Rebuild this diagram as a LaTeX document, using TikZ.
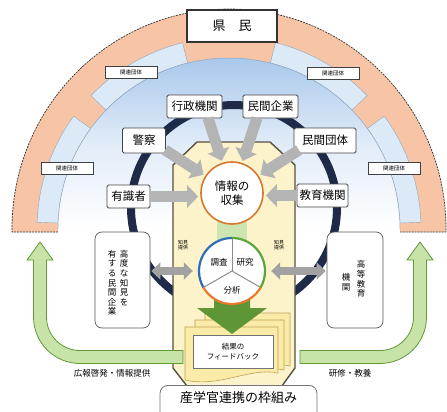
\documentclass[tikz,border=0pt]{standalone}
\usepackage{fontspec}
\setmainfont{Noto Sans CJK JP}
\usetikzlibrary{arrows.meta}
\definecolor{orangeband}{HTML}{F7C5A5}
\definecolor{domeblue}{HTML}{A9C8EB}
\definecolor{tabblue}{HTML}{DCE9F7}
\definecolor{tabedge}{HTML}{8FA5BE}
\definecolor{ringcol}{HTML}{1E2A47}
\definecolor{colyellow}{HTML}{FDF3CA}
\definecolor{coledge}{HTML}{55503F}
\definecolor{bandgreen}{HTML}{CDE5B0}
\definecolor{arrowgreen}{HTML}{5E9636}
\definecolor{greenfill}{HTML}{C7E3A7}
\definecolor{greenedge}{HTML}{5E9A38}
\definecolor{arrowgray}{HTML}{B4B4B4}
\definecolor{paperfill}{HTML}{FBEBA8}
\definecolor{paperedge}{HTML}{B9A358}
\definecolor{infoorange}{HTML}{D8782F}
\definecolor{anablue}{HTML}{2F6DB8}
\definecolor{anagreen}{HTML}{5BA63C}
\definecolor{anaorange}{HTML}{E8792C}
\definecolor{boxedge}{HTML}{444444}
\tikzset{
  relbox/.style={draw=black!75, fill=white, line width=0.5pt, minimum width=52pt, minimum height=12pt, inner sep=0pt, font=\fontsize{5.5}{6}\selectfont},
  mbox/.style={draw=boxedge, line width=0.8pt, fill=white, rounded corners=1.5pt, minimum height=23pt, inner sep=1.5pt, font=\fontsize{11.5}{12}\selectfont},
  vbox/.style={draw=black!65, line width=0.7pt, fill=white, rounded corners=7pt, minimum width=55pt, minimum height=96pt},
  vtext/.style={align=center, inner sep=0pt, font=\fontsize{8.5}{9.6}\selectfont},
  garrow/.style={line width=11pt, draw=arrowgray, -{Triangle[width=22pt,length=11pt]}, shorten >=2pt},
  darrow/.style={line width=8pt, draw=arrowgray!90!black, {Triangle[width=17pt,length=9pt]}-{Triangle[width=17pt,length=9pt]}},
  paper/.style={fill=paperfill, draw=paperedge, line width=0.6pt},
  small/.style={align=center, inner sep=0pt, font=\fontsize{5}{5.8}\selectfont},
  caption/.style={inner sep=0pt, font=\fontsize{8.5}{9}\selectfont}
}
\begin{document}
\begin{tikzpicture}[x=1pt,y=-1pt]
\useasboundingbox (0,0) rectangle (447,412);
\clip (0,0) rectangle (447,412);
\fill[white] (0,0) rectangle (447,412);

% orange outer band
\fill[orangeband] (12,232) -- (12,229) arc[start angle=180,end angle=360,x radius=217,y radius=220] -- (446,232) -- (400,232) -- (400,229) arc[start angle=360,end angle=180,radius=171] -- (58,232) -- cycle;
\draw[black!80, line width=0.7pt, dash pattern=on 2pt off 1pt] (58,232) -- (12,232) -- (12,229) arc[start angle=180,end angle=360,x radius=217,y radius=220] -- (446,232) -- (400,232);

% tabs
\foreach \a/\b in {182/216, 224/256, 284/316, 324/358}{
  \filldraw[fill=tabblue, draw=tabedge, line width=0.4pt]
    ([shift={(229,229)}]\a:192) arc[start angle=\a, end angle=\b, radius=192]
    -- ([shift={(229,229)}]\b:171) arc[start angle=\b, end angle=\a, radius=171] -- cycle;
}
% dome
\shade[top color=domeblue, bottom color=white, middle color=domeblue!35] (58,229) arc[start angle=180,end angle=360,radius=171] -- cycle;
\draw[tabedge, line width=0.5pt] (58,229) arc[start angle=180,end angle=360,radius=171];

% labels on tabs
\node[relbox] (rel1) at (131,72) {関連団体};
\node[relbox] (rel2) at (333,73) {関連団体};
\node[relbox] (rel3) at (67,168) {関連団体};
\node[relbox] (rel4) at (394,168) {関連団体};

% kenmin
\node[draw=black!80, line width=1.6pt, fill=white, minimum width=90pt, minimum height=32pt, font=\fontsize{13}{14}\selectfont] (kenmin) at (232,26) {県　民};

% ring
\draw[ringcol, line width=8pt] (234,208) circle[radius=103];

% column
\filldraw[fill=colyellow, draw=coledge, line width=1.4pt] (173,165) -- (197,142) -- (270,142) -- (295,165) -- (295,368) -- (279,390) -- (190,390) -- (173,368) -- cycle;

% green curved arrows
\filldraw[fill=greenfill, draw=greenedge, line width=0.8pt] (183,350.5) -- (80,350.5) arc[start angle=90, end angle=180, radius=33.5] -- (46.5,260) -- (53,260) -- (40,242) -- (27,260) -- (33.5,260) -- (33.5,317) arc[start angle=180, end angle=90, radius=46.5] -- (183,363.5) -- cycle;
\filldraw[fill=greenfill, draw=greenedge, line width=0.8pt] (300,350.5) -- (380,350.5) arc[start angle=90, end angle=0, radius=33.5] -- (413.5,260) -- (407,260) -- (420,242) -- (433,260) -- (426.5,260) -- (426.5,317) arc[start angle=0, end angle=90, radius=46.5] -- (300,363.5) -- cycle;

% green band
\fill[bandgreen] (217,222) rectangle (247,275);

% info circle
\node[circle, draw=infoorange, line width=1.6pt, fill=white, minimum size=62pt, inner sep=0pt, align=center, font=\fontsize{11.5}{13.5}\selectfont] (info) at (232,193) {情報の\\収集};

% boxes
\node[mbox, minimum width=55pt] (kousei) at (194.5,106.5) {行政機関};
\node[mbox, minimum width=55pt] (minkan) at (270.5,106.5) {民間企業};
\node[mbox, minimum width=43pt, minimum height=25pt] (keisatsu) at (144,140.5) {警察};
\node[mbox, minimum width=62pt, minimum height=25pt] (mdantai) at (325,140.5) {民間団体};
\node[mbox, minimum width=43pt] (yuushiki) at (128.5,196.5) {有識者};
\node[mbox, minimum width=51pt] (kyouiku) at (322.5,195.5) {教育機関};

% gray arrows
\draw[garrow] (208,118) -- (info);
\draw[garrow] (257,118) -- (info);
\draw[garrow] (165,150) -- (info);
\draw[garrow] (299,150) -- (info);
\draw[garrow] (yuushiki.east) -- (yuushiki.east -| info.west);
\draw[garrow] (kyouiku.west) -- (kyouiku.west -| info.east);

% papers
\filldraw[paper] (205,313) -- (290,313) -- (290,366) .. controls (265,360) and (240,376) .. (205,370) -- cycle;
\filldraw[paper] (195,320) -- (284,320) -- (284,370) .. controls (258,364) and (230,384) .. (195,376) -- cycle;
\filldraw[paper] (185,327) -- (278,327) -- (278,373) .. controls (250,367) and (220,388) .. (185,380) -- cycle;

% big green arrow
\fill[arrowgreen] (214,288) -- (250,288) -- (250,308) -- (267,308) -- (232,334) -- (197,308) -- (214,308) -- cycle;

% analysis circle
\node[circle, fill=white, minimum size=66pt, inner sep=0pt] (ana) at (232,271) {};
\draw[black!45, line width=1pt] (ana.center) -- ([shift={(270:33)}]ana.center);
\draw[black!45, line width=1pt] (ana.center) -- ([shift={(150:33)}]ana.center);
\draw[black!45, line width=1pt] (ana.center) -- ([shift={(30:33)}]ana.center);
\draw[anablue, line width=2.2pt] ([shift={(270:33)}]ana.center) arc[start angle=270, end angle=150, radius=33];
\draw[anagreen, line width=2.2pt] ([shift={(270:33)}]ana.center) arc[start angle=270, end angle=390, radius=33];
\draw[anaorange, line width=2.2pt] ([shift={(30:33)}]ana.center) arc[start angle=30, end angle=150, radius=33];
\node[inner sep=0pt, font=\fontsize{8.5}{9}\selectfont] (chousa) at (219,262) {調査};
\node[inner sep=0pt, font=\fontsize{8.5}{9}\selectfont] (kenkyu) at (245,262) {研究};
\node[inner sep=0pt, font=\fontsize{8.5}{9}\selectfont] (bunseki) at (232,290) {分析};

% feedback box
\node[draw=black!55, line width=0.6pt, fill=white, minimum width=80pt, minimum height=33pt, inner sep=0pt, align=center, font=\fontsize{7.5}{9.5}\selectfont] (fb) at (233,351.5) {結果の\\フィードバック};

% small labels
\node[small] (chiken1) at (183,245) {知見\\提供};
\node[small] (chiken2) at (279,245) {知見\\提供};

% vertical boxes
\node[vbox] (leftbox) at (122.5,280) {};
\node[vtext, anchor=north] (lt1) at (124,250) {高\\度\\な\\知\\見\\を};
\node[vtext, anchor=north] (lt2) at (112,250) {有\\す\\る\\民\\間\\企\\業};
\node[vbox, minimum width=56pt] (rightbox) at (355,280) {};
\node[vtext] (rt1) at (361,279) {高\\等\\教\\育};
\node[vtext] (rt2) at (346,282) {機\\関};

% double arrows
\draw[darrow, shorten >=6pt, shorten <=1pt] (leftbox.east |- ana) -- (ana.west);
\draw[darrow, shorten >=6pt, shorten <=1pt] (rightbox.west |- ana) -- (ana.east);

% captions
\node[caption] (cap1) at (112,373) {広報啓発・情報提供};
\node[caption] (cap2) at (350,373) {研修・教養};

% frame
\node[draw=black!55, line width=0.8pt, fill=white, rounded corners=8pt, minimum width=157pt, minimum height=40pt, anchor=north] (frame) at (238.5,385) {};
\node[inner sep=0pt, font=\fontsize{13}{14}\selectfont] (frametxt) at (238.5,398) {産学官連携の枠組み};
\end{tikzpicture}
\end{document}
